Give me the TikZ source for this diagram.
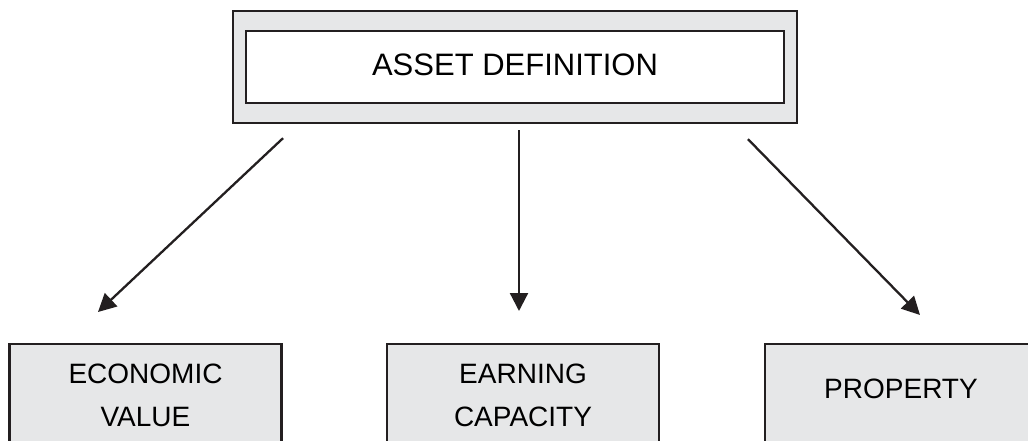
\documentclass[tikz,border=0pt]{standalone}
\usepackage{fontspec}
\setmainfont{Liberation Sans}
\usetikzlibrary{arrows.meta}
\definecolor{ink}{HTML}{231F20}
\definecolor{panel}{HTML}{E6E7E8}

\begin{document}
\begin{tikzpicture}[x=1pt, y=-1pt,
    frame/.style={draw=ink, line width=2.4pt, fill=panel, inner sep=0pt},
    title/.style={draw=ink, line width=2.4pt, fill=white, inner sep=0pt,
      minimum width=538pt, minimum height=72pt, text depth=4pt,
      font=\fontsize{31}{37}\selectfont},
    item/.style={frame, anchor=north, text width=272pt, align=center,
      text height=39pt, text depth=110pt, font=\fontsize{28}{43}\selectfont},
    link/.style={draw=ink, line width=2.3pt, -{Triangle[length=18pt, width=18pt]}}]
    \clip (0,0) rectangle (1028,441);

    % top box, gray frame round a white one
    \node[frame, minimum width=564pt, minimum height=112pt] (defbox) at (515,67) {};
    \node[title] (def) at (defbox) {ASSET DEFINITION};

    % the three boxes below
    \node[item] (econ) at (145.5,343) {ECONOMIC\\VALUE};
    \node[item] (earn) at (523,343) {EARNING\\CAPACITY};
    \node[item, text height=54pt] (prop) at (901,343) {PROPERTY};

    \draw[link] ([shift={(-232,14)}]defbox.south) -- ([shift={(-47.5,-31)}]econ.north);
    \draw[link] ([shift={(4,6)}]defbox.south) -- ([shift={(-4,-32)}]earn.north);
    \draw[link] ([shift={(233,15)}]defbox.south) -- ([shift={(19,-28)}]prop.north);
\end{tikzpicture}
\end{document}
